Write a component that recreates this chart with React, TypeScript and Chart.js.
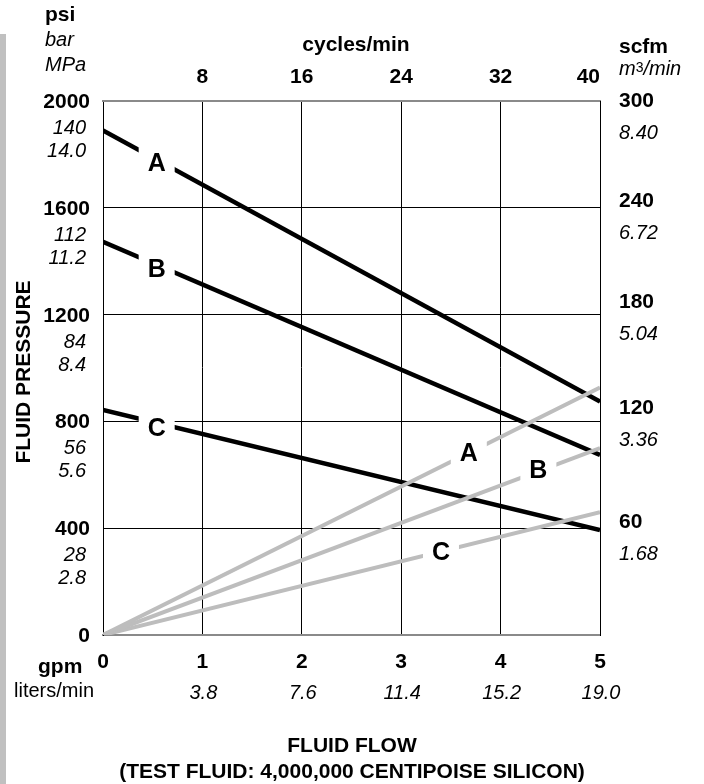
import { useEffect, useRef } from "react";
import { Chart, registerables } from "chart.js";

Chart.register(...registerables);

// ---- data ----
const flowGpm = [0, 5];
const pressureA = [1890, 874];
const pressureB = [1473, 674];
const pressureC = [843, 393];
const airA = [0, 139];
const airB = [0, 105];
const airC = [0, 69];

const curveNames = ["A", "B", "C"];
const pressureLabelGpm = [0.54, 0.54, 0.54];
const pressureLabelPsi = [1771, 1374, 779];
const airLabelGpm = [3.68, 4.38, 3.4];
const airLabelScfm = [103, 93, 47];

const psiTicks = [0, 400, 800, 1200, 1600, 2000];
const barLabels = ["", "28", "56", "84", "112", "140"];
const mpaLabels = ["", "2.8", "5.6", "8.4", "11.2", "14.0"];
const gpmTicks = [0, 1, 2, 3, 4, 5];
const lpmLabels = ["", "3.8", "7.6", "11.4", "15.2", "19.0"];
const cycleTicks = [8, 16, 24, 32, 40];
const scfmTicks = [60, 120, 180, 240, 300];
const m3Labels = ["1.68", "3.36", "5.04", "6.72", "8.40"];

// ---- style ----
const FONT = "'Liberation Sans', Arial, Helvetica, sans-serif";
const BOLD = `bold 21px ${FONT}`;
const ITAL = `italic 20px ${FONT}`;
const REG = `20px ${FONT}`;
const LABEL = `bold 25px ${FONT}`;
const GRAY_LINE = "#bdbdbd";
const FRAME_GRAY = "#8a8a8a";
const rightNudge = [-7, -14, -14, -8, -1];

const pts = (ys: number[]) => flowGpm.map((x, i) => ({ x, y: ys[i] }));

const textPlugin = {
  id: "textPlugin",
  beforeDraw(chart: any) {
    const ctx = chart.ctx;
    ctx.save();
    ctx.fillStyle = "#c0c0c0";
    ctx.fillRect(0, 34, 6, 750);
    ctx.restore();
  },
  afterDatasetsDraw(chart: any) {
    const ctx = chart.ctx;
    const { x, y, y2 } = chart.scales;
    ctx.save();
    const drawLabel = (px: number, py: number, t: string) => {
      ctx.fillStyle = "#fff";
      ctx.fillRect(px - 18, py - 15, 36, 30);
      ctx.fillStyle = "#000";
      ctx.font = LABEL;
      ctx.textAlign = "center";
      ctx.textBaseline = "alphabetic";
      ctx.fillText(t, px, py + 9);
    };
    curveNames.forEach((n, i) => {
      drawLabel(x.getPixelForValue(pressureLabelGpm[i]), y.getPixelForValue(pressureLabelPsi[i]), n);
      drawLabel(x.getPixelForValue(airLabelGpm[i]), y2.getPixelForValue(airLabelScfm[i]), n);
    });
    ctx.restore();
  },
  afterDraw(chart: any) {
    const ctx = chart.ctx;
    const { x, y, x2, y2 } = chart.scales;
    const area = chart.chartArea;
    ctx.save();
    ctx.fillStyle = "#000";
    ctx.textBaseline = "alphabetic";

    // left headers
    ctx.textAlign = "left";
    ctx.font = BOLD;
    ctx.fillText("psi", 45, 21);
    ctx.font = ITAL;
    ctx.fillText("bar", 45, 46);
    ctx.fillText("MPa", 45, 71);

    // left ticks
    psiTicks.forEach((v, i) => {
      const py = y.getPixelForValue(v);
      ctx.textAlign = "right";
      ctx.font = BOLD;
      ctx.fillText(String(v), 90, py + 7);
      ctx.font = ITAL;
      if (barLabels[i]) ctx.fillText(barLabels[i], 86, py + 33);
      if (mpaLabels[i]) ctx.fillText(mpaLabels[i], 86, py + 56);
    });

    // left title
    ctx.save();
    ctx.translate(30, 372);
    ctx.rotate(-Math.PI / 2);
    ctx.textAlign = "center";
    ctx.font = BOLD;
    ctx.fillText("FLUID PRESSURE", 0, 0);
    ctx.restore();

    // top axis
    ctx.font = BOLD;
    ctx.textAlign = "center";
    ctx.fillText("cycles/min", 356, 51);
    cycleTicks.forEach((v, i) => {
      const px = x2.getPixelForValue(v);
      if (i === cycleTicks.length - 1) {
        ctx.textAlign = "right";
        ctx.fillText(String(v), area.right, 83);
      } else {
        ctx.textAlign = "center";
        ctx.fillText(String(v), px, 83);
      }
    });

    // right headers
    ctx.textAlign = "left";
    ctx.font = BOLD;
    ctx.fillText("scfm", 619, 53);
    ctx.font = ITAL;
    let cx = 619;
    ctx.fillText("m", cx, 75);
    cx += ctx.measureText("m").width;
    ctx.font = `14px ${FONT}`;
    ctx.fillText("3", cx, 72);
    cx += ctx.measureText("3").width;
    ctx.font = ITAL;
    ctx.fillText("/min", cx, 75);

    // right ticks
    scfmTicks.forEach((v, i) => {
      const py = y2.getPixelForValue(v) + rightNudge[i];
      ctx.font = BOLD;
      ctx.fillText(String(v), 619, py + 7);
      ctx.font = ITAL;
      ctx.fillText(m3Labels[i], 619, py + 39);
    });

    // bottom ticks
    ctx.textAlign = "left";
    ctx.font = BOLD;
    ctx.fillText("gpm", 38, 673);
    ctx.font = REG;
    ctx.fillText("liters/min", 14, 697);
    gpmTicks.forEach((v, i) => {
      const px = x.getPixelForValue(v);
      ctx.textAlign = "center";
      ctx.font = BOLD;
      ctx.fillText(String(v), px, 668);
      ctx.font = ITAL;
      if (lpmLabels[i]) ctx.fillText(lpmLabels[i], px + 1, 699);
    });

    // bottom title
    ctx.textAlign = "center";
    ctx.font = BOLD;
    ctx.fillText("FLUID FLOW", 352, 752);
    ctx.fillText("(TEST FLUID: 4,000,000 CENTIPOISE SILICON)", 352, 778);
    ctx.restore();
  },
};

export default function App() {
  const ref = useRef<HTMLCanvasElement | null>(null);
  useEffect(() => {
    if (!ref.current) return;
    const black = { borderColor: "#000", borderWidth: 4.5, yAxisID: "y" };
    const gray = { borderColor: GRAY_LINE, borderWidth: 4, yAxisID: "y2" };
    const chart = new Chart(ref.current, {
      type: "line",
      data: {
        datasets: [
          { label: "Air A", data: pts(airA), ...gray },
          { label: "Air B", data: pts(airB), ...gray },
          { label: "Air C", data: pts(airC), ...gray },
          { label: "Pressure A", data: pts(pressureA), ...black },
          { label: "Pressure B", data: pts(pressureB), ...black },
          { label: "Pressure C", data: pts(pressureC), ...black },
        ] as any,
      },
      options: {
        responsive: false,
        animation: false,
        devicePixelRatio: 1,
        layout: { padding: { left: 103, right: 104, top: 101, bottom: 149 } },
        elements: { point: { radius: 0 }, line: { tension: 0, borderCapStyle: "butt" } },
        plugins: { legend: { display: false }, tooltip: { enabled: false } },
        scales: {
          x: {
            type: "linear",
            position: "bottom",
            min: 0,
            max: 5,
            ticks: { stepSize: 1, display: false },
            grid: { color: "#000", lineWidth: 1, drawTicks: false },
            border: { color: FRAME_GRAY, width: 2 },
          },
          y: {
            type: "linear",
            position: "left",
            min: 0,
            max: 2000,
            ticks: { stepSize: 400, display: false },
            grid: {
              color: (c: any) => (c.tick && c.tick.value === 2000 ? FRAME_GRAY : "#000"),
              lineWidth: (c: any) => (c.tick && c.tick.value === 2000 ? 2 : 1),
              drawTicks: false,
            },
            border: { color: "#000", width: 1 },
          },
          x2: {
            type: "linear",
            position: "top",
            min: 0,
            max: 40,
            ticks: { stepSize: 8, display: false },
            grid: { display: false, drawTicks: false },
            border: { color: FRAME_GRAY, width: 2 },
          },
          y2: {
            type: "linear",
            position: "right",
            min: 0,
            max: 300,
            ticks: { stepSize: 60, display: false },
            grid: { display: false, drawTicks: false },
            border: { color: "#000", width: 1 },
          },
        },
      } as any,
      plugins: [textPlugin],
    });
    return () => chart.destroy();
  }, []);
  return (
    <div style={{ position: "fixed", left: 0, top: 0, width: 704, height: 784, background: "#fff" }}>
      <canvas ref={ref} width={704} height={784} style={{ display: "block" }} />
    </div>
  );
}
